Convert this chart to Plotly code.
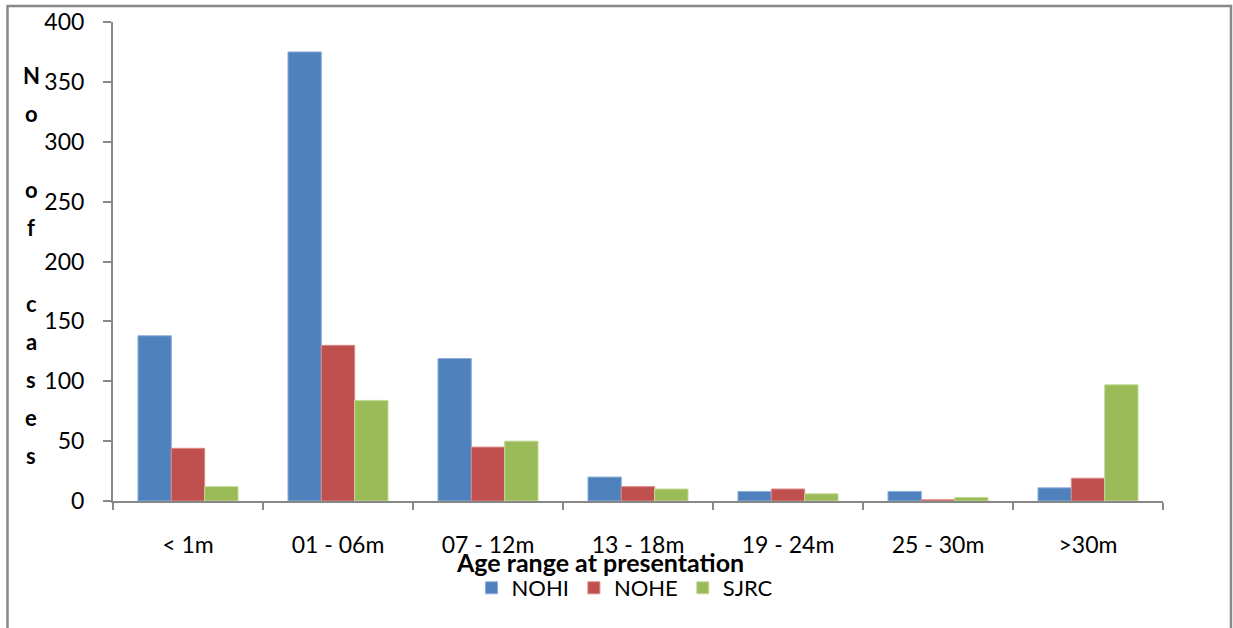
import plotly.graph_objects as go

categories = ["< 1m", "01 - 06m", "07 - 12m", "13 - 18m", "19 - 24m", "25 - 30m", ">30m"]
nohi = [138, 375, 119, 20, 8, 8, 11]
nohe = [44, 130, 45, 12, 10, 1, 19]
sjrc = [12, 84, 50, 10, 6, 3, 97]
y_ticks = [0, 50, 100, 150, 200, 250, 300, 350, 400]
y_title_letters = ["N", "o", "", "o", "f", "", "c", "a", "s", "e", "s"]

FONT = "Lato"
W, H = 1233, 628
L, R, T, B = 113, 70, 22, 127
pw, ph = W - L - R, H - T - B


def px_x(x):
    return (x - L) / pw


def px_y(y):
    return (H - B - y) / ph


fig = go.Figure()
series = [
    ("NOHI", nohi, "#4F81BD", "#8FB0DA"),
    ("NOHE", nohe, "#C0504D", "#DA8A88"),
    ("SJRC", sjrc, "#9BBB59", "#C3D996"),
]
for name, vals, col, edge in series:
    fig.add_trace(go.Bar(
        name=name, x=categories, y=vals,
        marker=dict(color=col, line=dict(color=edge, width=1)),
    ))

fig.update_layout(
    width=W, height=H,
    margin=dict(l=L, r=R, t=T, b=B, pad=0, autoexpand=False),
    paper_bgcolor="white", plot_bgcolor="white",
    barmode="group", bargap=0.333, bargroupgap=0,
    font=dict(family=FONT, size=22, color="#000000"),
    showlegend=True,
    legend=dict(
        orientation="h", x=px_x(625), xanchor="center", y=px_y(588),
        yanchor="middle", yref="paper",
        font=dict(family=FONT, size=22, color="#000000"),
        itemwidth=30, bgcolor="rgba(0,0,0,0)",
        traceorder="normal",
    ),
    xaxis=dict(
        type="category", showgrid=False, zeroline=False, automargin=False,
        showline=True, linecolor="#878787", linewidth=2,
        ticks="outside", tickson="boundaries", ticklen=7, tickwidth=2, tickcolor="#878787",
        ticklabelstandoff=22,
        tickfont=dict(family=FONT, size=23, color="#000000"),
    ),
    yaxis=dict(
        range=[0, 400], tickvals=y_ticks, showgrid=False, zeroline=False, automargin=False,
        showline=True, linecolor="#878787", linewidth=2,
        ticks="outside", ticklen=8, tickwidth=2, tickcolor="#878787",
        ticklabelstandoff=14,
        tickfont=dict(family=FONT, size=23, color="#000000"),
    ),
)

# x-axis title
fig.add_annotation(
    text="<b>Age range at presentation</b>", xref="paper", yref="paper",
    x=px_x(600), y=px_y(562), xanchor="center", yanchor="middle",
    showarrow=False, font=dict(family=FONT, size=25, color="#000000"),
)

# stacked y-axis title letters
for i, ch in enumerate(y_title_letters):
    if not ch:
        continue
    fig.add_annotation(
        text=f"<b>{ch}</b>", xref="paper", yref="paper",
        x=px_x(31), y=px_y(75 + i * 38), xanchor="center", yanchor="middle",
        showarrow=False, font=dict(family=FONT, size=22, color="#000000"),
    )

# chart frame, open at the bottom
x0, x1 = px_x(7.5), px_x(1231)
yt, yb = px_y(6), px_y(660)
fig.add_shape(
    type="path", xref="paper", yref="paper",
    path=f"M {x0} {yb} L {x0} {yt} L {x1} {yt} L {x1} {yb}",
    line=dict(color="#898989", width=2.5),
)

fig.write_html("out.html")
